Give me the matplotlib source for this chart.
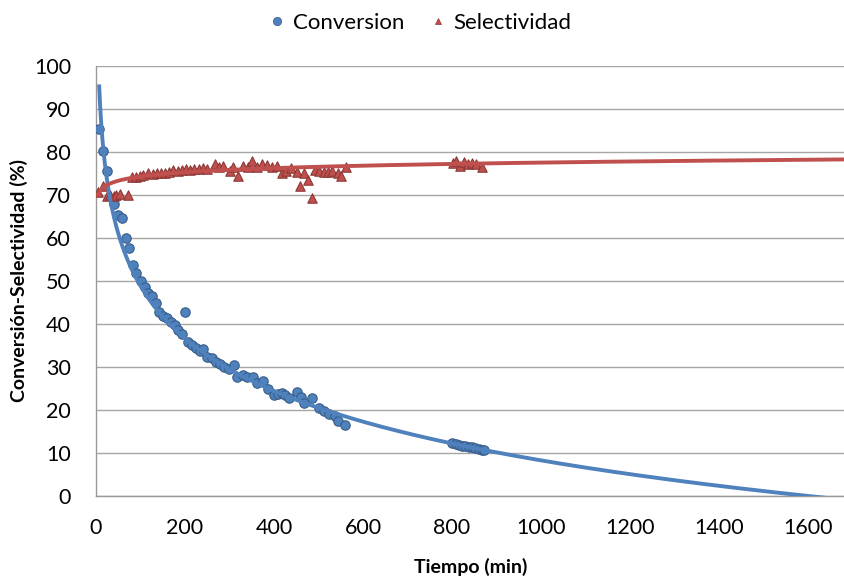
import numpy as np
import matplotlib
matplotlib.use("Agg")
import matplotlib.pyplot as plt
from matplotlib.lines import Line2D

plt.rcParams['font.family'] = ['Lato', 'DejaVu Sans']

# Conversion (%) vs time (min)
t_conv = [7, 16, 25, 41, 49, 58, 67, 75, 84, 91, 100, 109, 116, 125, 134, 142,
          151, 160, 168, 177, 185, 193, 201, 207, 216, 225, 234, 241, 250, 260,
          269, 279, 288, 299, 309, 316, 331, 340, 352, 361, 376, 387, 400, 408,
          417, 425, 434, 451, 460, 467, 485, 500, 512, 524, 536, 544, 560,
          800, 808, 815, 822, 830, 838, 845, 852, 860, 868, 872]
conversion = [85.3, 80.2, 75.6, 67.9, 65.3, 64.6, 60.0, 57.7, 53.8, 51.8, 50.1,
              48.7, 47.1, 46.4, 44.8, 42.9, 41.9, 41.4, 40.5, 39.8, 38.5, 37.7,
              42.9, 35.7, 35.2, 34.4, 33.8, 34.3, 32.4, 32.0, 31.2, 30.7, 29.9,
              29.6, 30.5, 27.7, 28.1, 27.7, 27.6, 26.2, 26.8, 25.0, 23.5, 23.8,
              24.0, 23.4, 22.7, 24.3, 23.1, 21.7, 22.7, 20.5, 19.8, 19.0, 18.6,
              17.4, 16.5,
              12.3, 12.0, 11.8, 11.7, 11.6, 11.5, 11.3, 11.2, 11.0, 10.8, 10.7]

# Selectivity (%) vs time (min)
t_sel = [5, 15, 25, 31, 40, 44, 53, 71, 82, 90, 98, 106, 116, 127, 136, 146,
         155, 165, 172, 184, 193, 203, 211, 221, 231, 240, 249, 267, 277, 286,
         300, 308, 318, 330, 341, 350, 361, 372, 384, 395, 406, 419, 428, 439,
         451, 458, 468, 477, 485, 492, 501, 512, 522, 531, 543, 551, 561,
         803, 810, 818, 827, 837, 844, 854, 868]
selectivity = [70.6, 72.0, 69.8, 70.0, 69.8, 70.0, 70.3, 70.0, 74.1, 74.3, 74.4,
               74.7, 75.0, 74.9, 75.1, 75.2, 75.1, 75.4, 75.8, 75.6, 75.8, 76.0,
               75.8, 76.0, 76.0, 76.2, 76.0, 77.2, 76.4, 76.8, 75.5, 76.6, 74.5,
               76.8, 76.4, 77.8, 76.6, 77.2, 77.0, 76.6, 76.8, 75.1, 75.5, 76.2,
               75.3, 72.1, 75.1, 73.4, 69.4, 75.7, 75.5, 75.3, 75.3, 75.5, 75.1,
               74.5, 76.4,
               77.4, 78.0, 76.8, 77.6, 77.3, 77.4, 77.3, 76.6]

# Logarithmic trendlines y = a + b*ln(t)
conv_trend = (130.0, -17.62)
sel_trend = (67.8, 1.41)
trend_end = 1700

x_ticks = [0, 200, 400, 600, 800, 1000, 1200, 1400, 1600]
y_ticks = [0, 10, 20, 30, 40, 50, 60, 70, 80, 90, 100]

BLUE = '#4F81BD'
BLUE_EDGE = '#385D8A'
RED = '#C0504D'
RED_EDGE = '#8C3836'
GRID = '#A6A6A6'


def log_curve(coef, t_start, t_stop):
    a, b = coef
    tt = np.linspace(t_start, t_stop, 800)
    return tt, a + b * np.log(tt)


fig = plt.figure(figsize=(8.45, 5.76), dpi=100)
ax = fig.add_axes([96 / 845, 80 / 576, 1 - 96 / 845, 430 / 576])

ax.scatter(t_conv, conversion, s=46, marker='o', color=BLUE,
           edgecolors=BLUE_EDGE, linewidths=0.8, zorder=3)
ax.scatter(t_sel, selectivity, s=46, marker='^', color=RED,
           edgecolors=RED_EDGE, linewidths=0.8, zorder=3)

tc, yc = log_curve(conv_trend, min(t_conv), trend_end)
ts, ys = log_curve(sel_trend, min(t_sel), trend_end)
ax.plot(tc, yc, color=BLUE, lw=2.8, zorder=4, solid_capstyle='butt')
ax.plot(ts, ys, color=RED, lw=2.8, zorder=4, solid_capstyle='butt')

ax.set_xlim(0, 1683)
ax.set_ylim(0, 100)
ax.set_xticks(x_ticks)
ax.set_yticks(y_ticks)
ax.tick_params(axis='both', length=0, labelsize=15.5, colors='black')
ax.tick_params(axis='x', pad=16)
ax.tick_params(axis='y', pad=18)

ax.grid(axis='y', color=GRID, lw=1.0)
ax.set_axisbelow(True)
for side in ('top', 'right'):
    ax.spines[side].set_visible(False)
for side in ('left', 'bottom'):
    ax.spines[side].set_color('#999999')
    ax.spines[side].set_linewidth(1.0)

ax.set_xlabel('Tiempo (min)', fontsize=14, fontweight='bold', labelpad=14)
ax.set_ylabel('Conversión-Selectividad (%)', fontsize=14, fontweight='bold',
              labelpad=4)

handles = [
    Line2D([], [], ls='none', marker='o', ms=6, color=BLUE,
           markeredgecolor=BLUE_EDGE, markeredgewidth=0.5),
    Line2D([], [], ls='none', marker='^', ms=5, color=RED,
           markeredgecolor=RED_EDGE, markeredgewidth=0.5),
]
fig.legend(handles, ['Conversion', 'Selectividad'], loc='center',
           bbox_to_anchor=(421 / 845, 1 - 23 / 576), ncol=2, frameon=False,
           fontsize=16, handlelength=0.6, handletextpad=0.4, columnspacing=1.2)

fig.savefig('out.png', dpi=100)
